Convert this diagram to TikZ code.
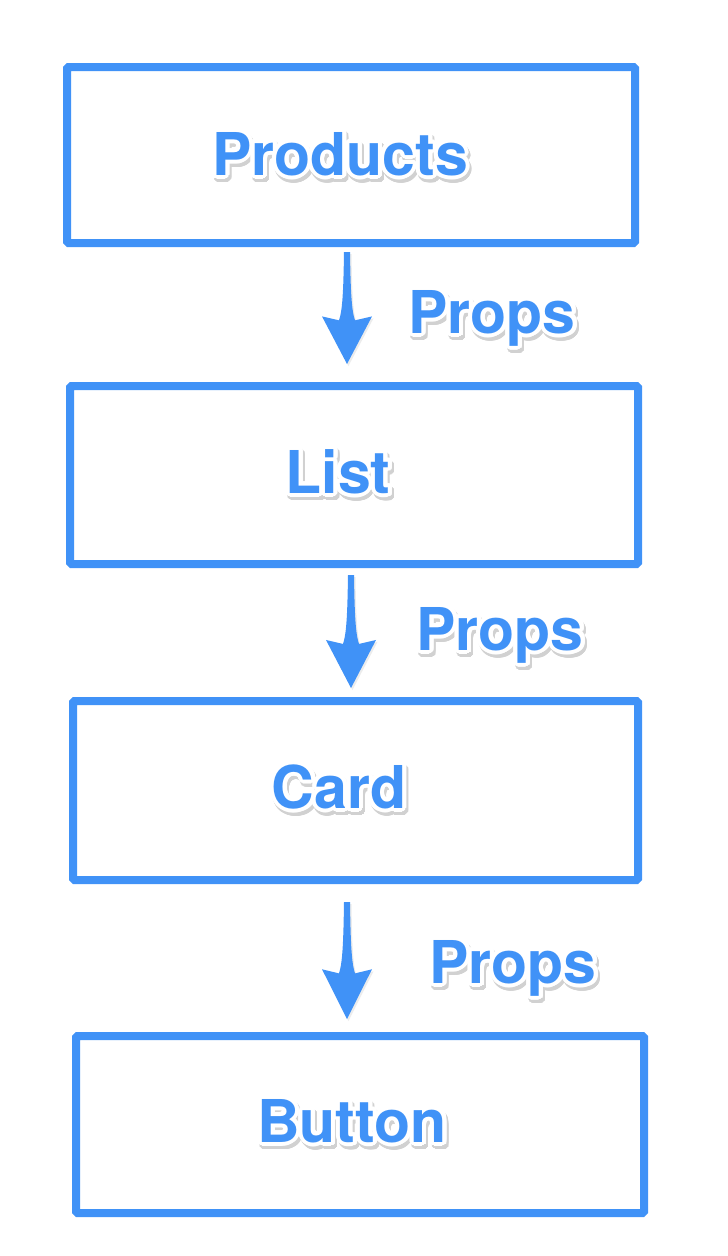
\documentclass[tikz,border=0pt]{standalone}
\usepackage{fontspec}
\setmainfont{TeX Gyre Heros}
\usepackage{xcolor}
\usepackage{contour}
\usetikzlibrary{calc, shadows}
\definecolor{flowblue}{RGB}{64,146,247}
\contourlength{4pt}
\contournumber{32}
% white rim plus soft shadow behind the blue words
\newcommand{\liftedtext}[1]{\rlap{\kern2pt\raisebox{-3.5pt}{\color{black!18}\contour{black!18}{#1}}}\contour{white}{#1}}
\tikzset{
  component/.style={rectangle, draw=flowblue, line width=8pt, rounded corners=1.5pt,
                    fill=white, inner sep=0pt},
  boxtitle/.style={anchor=base, inner sep=0pt, text=flowblue,
                   font=\fontsize{59}{62}\selectfont\bfseries},
  propsarrow/.style={fill=flowblue,
    drop shadow={opacity=0.15, shadow xshift=1.5pt, shadow yshift=-2pt},
    to path={
      ($(\tikztostart)+(-3,0)$) -- ($(\tikztostart)+(3,0)$)
      .. controls ($(\tikztostart)!.35!(\tikztotarget)+(3.6,0)$) and ($(\tikztostart)!.52!(\tikztotarget)+(4.5,0)$) .. ($(\tikztostart)!.61!(\tikztotarget)+(8,0)$)
      -- ($(\tikztostart)!.575!(\tikztotarget)+(25,0)$) -- (\tikztotarget)
      -- ($(\tikztostart)!.575!(\tikztotarget)+(-25,0)$) -- ($(\tikztostart)!.61!(\tikztotarget)+(-8,0)$)
      .. controls ($(\tikztostart)!.52!(\tikztotarget)+(-4.5,0)$) and ($(\tikztostart)!.35!(\tikztotarget)+(-3.6,0)$) .. ($(\tikztostart)+(-3,0)$) -- cycle}},
}

\begin{document}
\begin{tikzpicture}[x=1pt, y=-1pt]
  \useasboundingbox (0,0) rectangle (728,1256);

  %% === Components, top to bottom ===
  \node[component, minimum width=568pt, minimum height=176pt] at (351, 155) (products) {};
  \node[component, minimum width=568pt, minimum height=178pt] at (354, 475) (list) {};
  \node[component, minimum width=565pt, minimum height=179pt] at (355.5, 790.5) (card) {};
  \node[component, minimum width=568pt, minimum height=177pt] at (360, 1124.5) (button) {};

  \node[boxtitle] at (340, 175) (productstitle) {\liftedtext{Products}};
  \node[boxtitle] at (338, 493) (listtitle) {\liftedtext{List}};
  \node[boxtitle] at (339, 808) (cardtitle) {\liftedtext{Card}};
  \node[boxtitle] at (352, 1142) (buttontitle) {\liftedtext{Button}};

  %% === Props passed down ===
  \coordinate (down1) at (347, 252);
  \coordinate (down2) at (351, 575);
  \coordinate (down3) at (347, 902);

  \fill[propsarrow] (down1) to ([xshift=-7pt, yshift=18pt]list.north);
  \fill[propsarrow] (down2) to ([xshift=-4.5pt, yshift=9pt]card.north);
  \fill[propsarrow] (down3) to ([xshift=-13pt, yshift=13pt]button.north);

  \node[boxtitle] at (492, 333) (props1) {\liftedtext{Props}};
  \node[boxtitle] at (500, 650) (props2) {\liftedtext{Props}};
  \node[boxtitle] at (513, 983) (props3) {\liftedtext{Props}};

\end{tikzpicture}
\end{document}
